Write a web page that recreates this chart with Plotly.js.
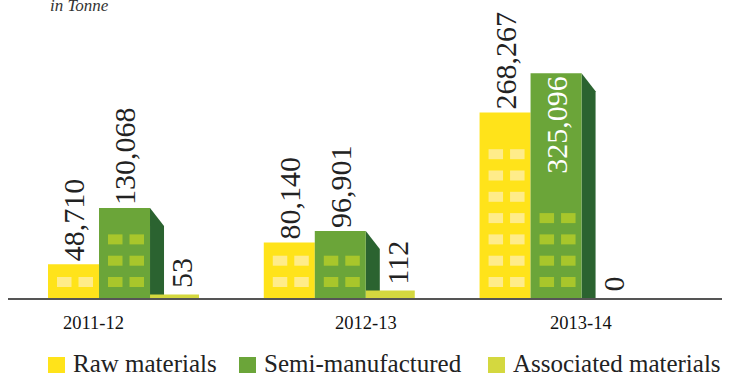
<!DOCTYPE html>
<html><head><meta charset="utf-8">
<script src="https://cdn.plot.ly/plotly-3.0.1.min.js"></script>
<style>html,body{margin:0;padding:0;background:#fff}#chart{width:733px;height:376px}</style>
</head><body><div id="chart"></div>
<script>
// ---- data ----
const categories = ['2011-12', '2012-13', '2013-14'];
const rawMaterials = [48710, 80140, 268267];
const semiManufactured = [130068, 96901, 325096];
const associatedMaterials = [53, 112, 0];
const seriesNames = ['Raw materials', 'Semi-manufactured', 'Associated materials'];
const unitLabel = 'in Tonne';

// ---- decoration / layout config ----
const W = 733, H = 376, M = {l: 8, r: 11, t: 20, b: 78};
const plotW = W - M.l - M.r, plotH = H - M.t - M.b;
const xRange = [-0.54, 2.769];
const yMax = 402000, y2Max = 4100;
const pxX = (xRange[1] - xRange[0]) / plotW;
const pxY = yMax / plotH;
const barW = 0.2364;
const windowRows = {raw: [1, 2, 7], semi: [3, 2, 4]};
const labelShift = [-31.5, 25.5, 24.5];
const seriesColors = ['#FFE31A', '#6BA539', '#D4D83F'];
const deco = {side: '#2B6330', rawWin: '#FFEC8A', semiWin: '#A8C62B', text: '#222222'};
const serif = "'Liberation Serif', serif";
const legendSquareX = [48, 239, 488];   // px, left edge of each legend key
const fmt = v => v.toLocaleString('en-US');
const xs = categories.map((c, i) => i);

const common = {type: 'bar', x: xs, width: barW, textangle: -90, cliponaxis: false,
  constraintext: 'none', hoverinfo: 'skip', showlegend: false,
  textfont: {family: serif, size: 30},
  outsidetextfont: {family: serif, size: 30, color: deco.text},
  insidetextfont: {family: serif, size: 30, color: '#ffffff'}};

const assocW = barW * 0.96;
const traces = [
  Object.assign({}, common, {name: seriesNames[0], y: rawMaterials, offset: -1.5 * barW,
    marker: {color: seriesColors[0]}, text: rawMaterials.map(fmt), textposition: 'outside'}),
  Object.assign({}, common, {name: seriesNames[1], y: semiManufactured, offset: -0.5 * barW,
    marker: {color: seriesColors[1]}, text: semiManufactured.map(fmt),
    textposition: ['outside', 'outside', 'inside'], insidetextanchor: 'end'}),
  Object.assign({}, common, {name: seriesNames[2], y: associatedMaterials, yaxis: 'y2',
    offset: 0.5 * barW, width: assocW, marker: {color: seriesColors[2]}, textposition: 'none'})
];

// ---- decorative shapes: 3D side faces and windows ----
const shapes = [];
semiManufactured.forEach((v, i) => {
  const xr = i + 0.5 * barW, xe = xr + 14 * pxX;
  shapes.push({type: 'path', xref: 'x', yref: 'y', layer: 'below', line: {width: 0},
    fillcolor: deco.side,
    path: `M${xr},${v} L${xe},${v - 18 * pxY} L${xe},0 L${xr},0 Z`});
});
function addWindows(rows, leftOffset, color) {
  rows.forEach((n, i) => {
    const left = i + leftOffset;
    for (let r = 0; r < n; r++) {
      const y0 = (11 + 21.3 * r) * pxY, y1 = y0 + 10 * pxY;
      [[9, 23.5], [30.5, 45]].forEach(([a, b]) => {
        shapes.push({type: 'rect', xref: 'x', yref: 'y', layer: 'above', line: {width: 0},
          fillcolor: color, x0: left + a * pxX, x1: left + b * pxX, y0: y0, y1: y1});
      });
    }
  });
}
addWindows(windowRows.raw, -1.5 * barW, deco.rawWin);
addWindows(windowRows.semi, -0.5 * barW, deco.semiWin);

// ---- labels ----
const annotations = categories.map((c, i) => ({
  text: c, x: i, xref: 'x', y: 0, yref: 'paper', yanchor: 'middle', yshift: -25,
  xshift: labelShift[i], showarrow: false,
  font: {family: serif, size: 18.5, color: '#111111'}}));
// associated-materials value labels (rotated, slightly right of the thin bars)
associatedMaterials.forEach((v, i) => {
  annotations.push({text: fmt(v), x: i + 0.5 * barW + assocW / 2, xref: 'x', xshift: 7,
    y: v, yref: 'y2', yanchor: 'bottom', yshift: 4, textangle: -90, showarrow: false,
    font: {family: serif, size: 30, color: deco.text}});
});
annotations.push({text: '<i>' + unitLabel + '</i>', xref: 'paper', x: (48 - M.l) / plotW,
  xanchor: 'left', yref: 'paper', y: 1, yanchor: 'middle', yshift: 15, showarrow: false,
  font: {family: serif, size: 17, color: '#333333'}});

// ---- manual legend (keys + labels) ----
const px2paperX = p => (p - M.l) / plotW;
const px2paperY = p => (H - M.b - p) / plotH;
seriesNames.forEach((name, i) => {
  shapes.push({type: 'rect', xref: 'paper', yref: 'paper', line: {width: 0},
    fillcolor: seriesColors[i],
    x0: px2paperX(legendSquareX[i]), x1: px2paperX(legendSquareX[i] + 17),
    y0: px2paperY(373), y1: px2paperY(357)});
  annotations.push({text: name, xref: 'paper', x: px2paperX(legendSquareX[i] + 24),
    xanchor: 'left', yref: 'paper', y: px2paperY(363.5), yanchor: 'middle', showarrow: false,
    borderpad: 0, font: {family: serif, size: 25, color: deco.text}});
});

const layout = {
  width: W, height: H, margin: M, paper_bgcolor: '#ffffff', plot_bgcolor: '#ffffff',
  font: {family: serif, color: deco.text},
  barmode: 'overlay', showlegend: false,
  xaxis: {range: xRange, showticklabels: false, ticks: '', showgrid: false, zeroline: false,
    showline: true, linecolor: '#555555', linewidth: 2, fixedrange: true},
  yaxis: {range: [0, yMax], visible: false, fixedrange: true},
  yaxis2: {range: [0, y2Max], overlaying: 'y', visible: false, fixedrange: true},
  shapes: shapes, annotations: annotations
};
Plotly.newPlot('chart', traces, layout, {displayModeBar: false, staticPlot: true});
</script></body></html>
